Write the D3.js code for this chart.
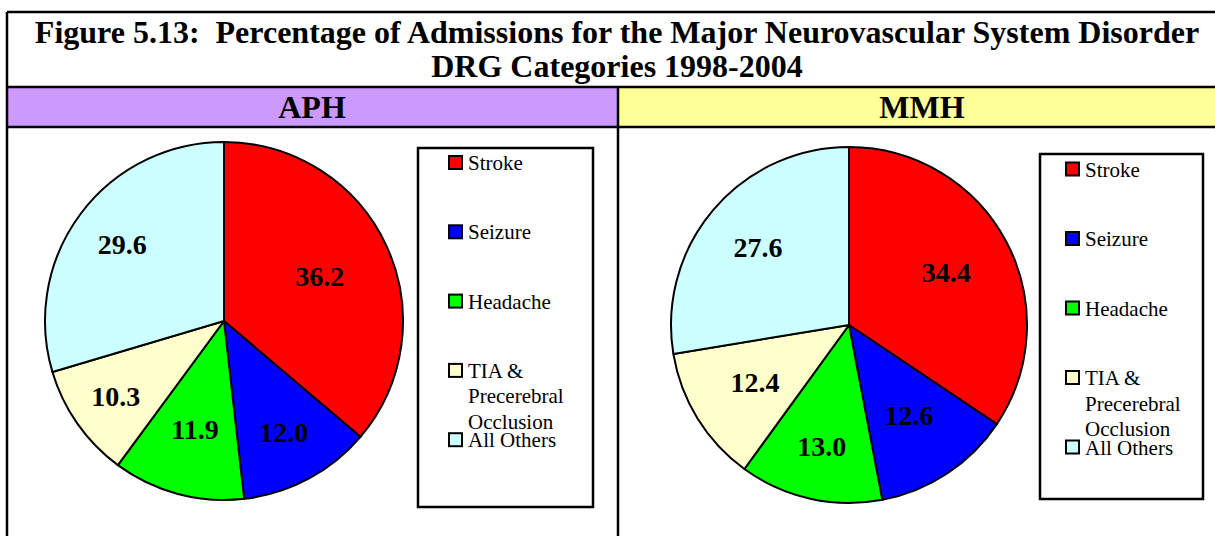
<!DOCTYPE html>
<html>
<head>
<meta charset="utf-8">
<script src="https://cdn.jsdelivr.net/npm/d3@7/dist/d3.min.js"></script>
<style>
  body { margin: 0; background: #fff; }
  svg text { font-family: "Liberation Serif", "Times New Roman", serif; white-space: pre; }
</style>
</head>
<body>
<div id="viz"></div>
<script>
// Data
var titleLines = ["Figure 5.13:  Percentage of Admissions for the Major Neurovascular System Disorder",
                  "DRG Categories 1998-2004"];
var hospitals = ["APH", "MMH"];
var headerColors = ["#CC99FF", "#FFFF99"];
var categories = ["Stroke", "Seizure", "Headache", "TIA & Precerebral Occlusion", "All Others"];
var legendLines = [["Stroke"], ["Seizure"], ["Headache"], ["TIA &", "Precerebral", "Occlusion"], ["All Others"]];
var sliceColors = ["#FF0000", "#0000FF", "#00FF00", "#FFFFCC", "#CCFFFF"];
var aphValues = [36.2, 12.0, 11.9, 10.3, 29.6];
var mmhValues = [34.4, 12.6, 13.0, 12.4, 27.6];

//Layout
var width = 1215, height = 536;
var frameLeft = 7, frameTop = 12, bandTop = 87, bandBottom = 127, divider = 618;

var panels = [
    {values: aphValues, cx: 224, cy: 321, r: 179, headerX: 312,
     labelFrac: [0.59, 0.71, 0.63, 0.74, 0.71],
     legend: {x: 418, y: 148, w: 175, h: 359, swatchX: 448, firstY: 162.5, step: 69.3}},
    {values: mmhValues, cx: 849, cy: 325, r: 178, headerX: 922,
     labelFrac: [0.62, 0.61, 0.70, 0.62, 0.67],
     legend: {x: 1040, y: 154, w: 163, h: 345, swatchX: 1065, firstY: 169, step: 69.5}}
];

var svg = d3.select("#viz").append("svg")
    .attr("width", width)
    .attr("height", height);

//Title
svg.selectAll("text.title")
    .data(titleLines)
    .enter()
    .append("text")
    .attr("class", "title")
    .attr("x", 617)
    .attr("y", function(d, i) { return 43 + i * 34; })
    .attr("text-anchor", "middle")
    .style("font-size", "32px")
    .style("font-weight", "bold")
    .text(function(d) { return d; });

//Header bands
svg.append("rect").attr("x", frameLeft).attr("y", bandTop)
    .attr("width", divider - frameLeft).attr("height", bandBottom - bandTop)
    .attr("fill", headerColors[0]);
svg.append("rect").attr("x", divider).attr("y", bandTop)
    .attr("width", width - divider).attr("height", bandBottom - bandTop)
    .attr("fill", headerColors[1]);

svg.selectAll("text.header")
    .data(hospitals)
    .enter()
    .append("text")
    .attr("class", "header")
    .attr("x", function(d, i) { return panels[i].headerX; })
    .attr("y", 118)
    .attr("text-anchor", "middle")
    .style("font-size", "32px")
    .style("font-weight", "bold")
    .text(function(d) { return d; });

//Frame lines
var lines = [
    [frameLeft, frameTop, width, frameTop],
    [frameLeft, bandTop, width, bandTop],
    [frameLeft, bandBottom, width, bandBottom],
    [frameLeft, frameTop, frameLeft, height],
    [divider, bandTop, divider, height]
];
svg.selectAll("line.frame")
    .data(lines)
    .enter()
    .append("line")
    .attr("class", "frame")
    .attr("x1", function(d) { return d[0]; })
    .attr("y1", function(d) { return d[1]; })
    .attr("x2", function(d) { return d[2]; })
    .attr("y2", function(d) { return d[3]; })
    .attr("stroke", "#000")
    .attr("stroke-width", 2.5);

var pie = d3.pie().sort(null).value(function(d) { return d; });

panels.forEach(function(p) {
    var g = svg.append("g").attr("transform", "translate(" + p.cx + "," + p.cy + ")");
    var arcs = pie(p.values);
    var arc = d3.arc().innerRadius(0).outerRadius(p.r);

    g.selectAll("path")
        .data(arcs)
        .enter()
        .append("path")
        .attr("d", arc)
        .attr("fill", function(d, i) { return sliceColors[i]; })
        .attr("stroke", "#000")
        .attr("stroke-width", 2)
        .attr("stroke-linejoin", "round");

    //Value labels
    g.selectAll("text")
        .data(arcs)
        .enter()
        .append("text")
        .attr("transform", function(d, i) {
            var lr = p.r * p.labelFrac[i];
            return "translate(" + d3.arc().innerRadius(lr).outerRadius(lr).centroid(d) + ")";
        })
        .attr("dy", "0.33em")
        .attr("text-anchor", "middle")
        .style("font-size", "28px")
        .style("font-weight", "bold")
        .text(function(d) { return d.data.toFixed(1); });

    //Legend
    var L = p.legend;
    svg.append("rect")
        .attr("x", L.x).attr("y", L.y)
        .attr("width", L.w).attr("height", L.h)
        .attr("fill", "#fff")
        .attr("stroke", "#000")
        .attr("stroke-width", 2.5);

    var items = svg.selectAll(null)
        .data(categories)
        .enter()
        .append("g")
        .attr("transform", function(d, i) { return "translate(" + L.swatchX + "," + (L.firstY + i * L.step) + ")"; });

    items.append("rect")
        .attr("x", 1).attr("y", -6.5)
        .attr("width", 13).attr("height", 13)
        .attr("fill", function(d, i) { return sliceColors[i]; })
        .attr("stroke", "#000")
        .attr("stroke-width", 2);

    items.append("text")
        .attr("x", 20)
        .attr("y", 7.5)
        .style("font-size", "21px")
        .selectAll("tspan")
        .data(function(d, i) { return legendLines[i]; })
        .enter()
        .append("tspan")
        .attr("x", 20)
        .attr("dy", function(d, j) { return j === 0 ? 0 : 25.5; })
        .text(function(d) { return d; });
});
</script>
</body>
</html>
